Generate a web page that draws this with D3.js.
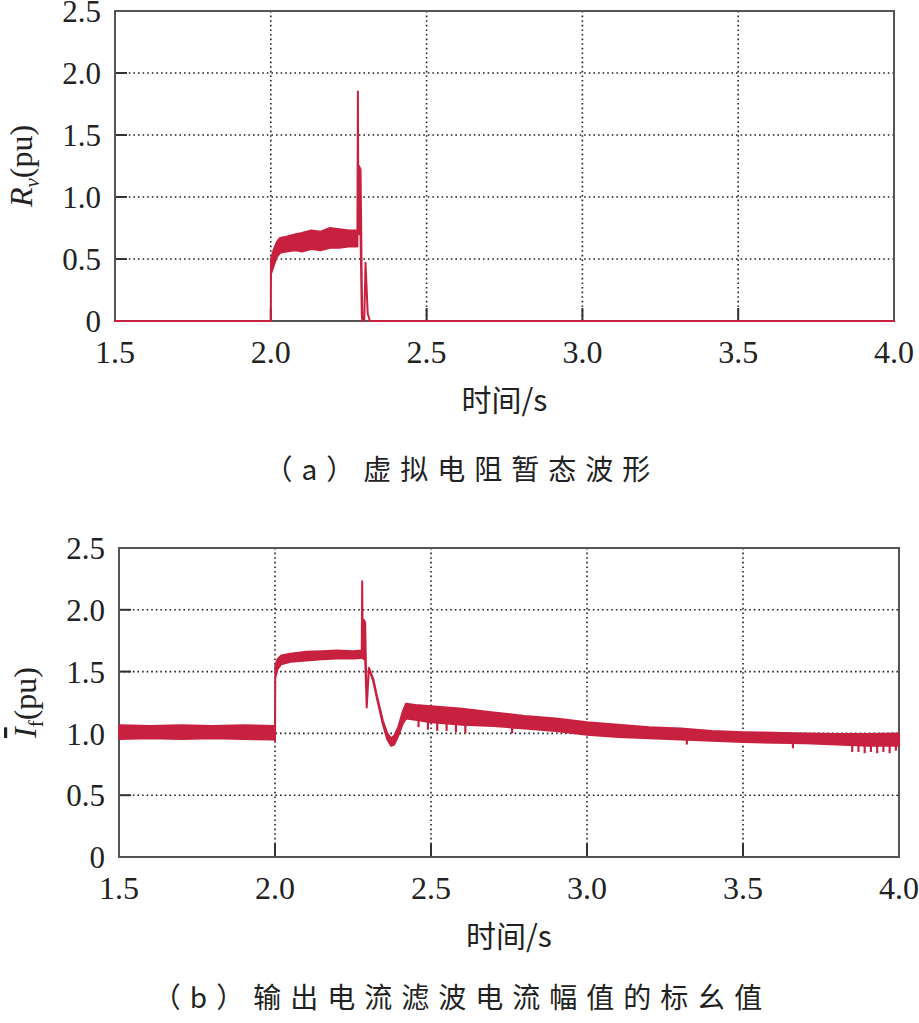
<!DOCTYPE html>
<html><head><meta charset="utf-8">
<script src="https://cdn.jsdelivr.net/npm/d3@7/dist/d3.min.js"></script>
<style>
html,body{margin:0;padding:0;background:#fff;}
svg{display:block;}
</style></head>
<body>
<script>
// ---- data ----
const xTicks = [1.5, 2.0, 2.5, 3.0, 3.5, 4.0];
const yTicks = [0, 0.5, 1.0, 1.5, 2.0, 2.5];
const xTickLabels = ["1.5", "2.0", "2.5", "3.0", "3.5", "4.0"];
const yTickLabels = ["0", "0.5", "1.0", "1.5", "2.0", "2.5"];
const xTitle = "时间/s";
const captionA = "（a）虚拟电阻暂态波形";
const captionB = "（b）输出电流滤波电流幅值的标幺值";

// virtual resistance Rv: [time, lower envelope, upper envelope]
const rvEnvelope = [
  [1.500, 0, 0], [2.000, 0, 0], [2.0005, 0.38, 0.50], [2.010, 0.45, 0.58],
  [2.020, 0.52, 0.64], [2.030, 0.55, 0.67], [2.050, 0.56, 0.68], [2.080, 0.57, 0.70],
  [2.100, 0.56, 0.71], [2.130, 0.58, 0.73], [2.160, 0.57, 0.72], [2.190, 0.59, 0.75],
  [2.220, 0.59, 0.74], [2.250, 0.60, 0.73], [2.278, 0.60, 0.73], [2.2795, 1.85, 1.85],
  [2.281, 0.70, 0.80], [2.283, 0.70, 1.25], [2.288, 0.70, 1.22], [2.292, 0.05, 0.30],
  [2.294, 0, 0], [2.300, 0, 0], [2.304, 0.47, 0.47], [2.311, 0.06, 0.06],
  [2.318, 0, 0], [4.000, 0, 0]
];

// filtered output current amplitude If: [time, lower envelope, upper envelope]
const ifEnvelope = [
  [1.500, 0.955, 1.065], [1.600, 0.960, 1.060], [1.700, 0.955, 1.065], [1.800, 0.960, 1.060],
  [1.900, 0.955, 1.065], [1.998, 0.950, 1.060], [2.000, 0.940, 1.050], [2.001, 1.45, 1.55],
  [2.008, 1.52, 1.60], [2.020, 1.56, 1.63], [2.050, 1.58, 1.645], [2.100, 1.59, 1.66],
  [2.150, 1.60, 1.665], [2.200, 1.605, 1.67], [2.250, 1.605, 1.665], [2.278, 1.61, 1.67],
  [2.2795, 2.23, 2.23], [2.281, 1.62, 1.70], [2.284, 1.60, 1.92], [2.289, 1.60, 1.90],
  [2.294, 1.21, 1.21], [2.301, 1.53, 1.53], [2.315, 1.42, 1.44], [2.327, 1.28, 1.30],
  [2.346, 1.07, 1.10], [2.360, 0.95, 1.00], [2.372, 0.90, 0.96], [2.382, 0.91, 0.98],
  [2.395, 0.98, 1.05], [2.410, 1.08, 1.18], [2.420, 1.12, 1.24], [2.450, 1.11, 1.23],
  [2.500, 1.09, 1.22], [2.550, 1.08, 1.21], [2.600, 1.07, 1.20], [2.700, 1.06, 1.17],
  [2.800, 1.04, 1.14], [2.900, 1.02, 1.12], [3.000, 0.99, 1.09], [3.100, 0.97, 1.07],
  [3.200, 0.96, 1.05], [3.300, 0.95, 1.04], [3.400, 0.94, 1.02], [3.500, 0.93, 1.01],
  [3.600, 0.925, 1.005], [3.700, 0.92, 1.00], [3.800, 0.91, 0.995], [3.900, 0.90, 0.995],
  [4.000, 0.90, 1.00]
];
// downward noise teeth on If: [time, from, to]
const ifDips = [
  [2.46, 1.12, 1.05], [2.49, 1.10, 1.03], [2.52, 1.09, 1.02], [2.55, 1.08, 1.02],
  [2.58, 1.08, 1.01], [2.61, 1.07, 1.00], [2.76, 1.05, 1.00], [3.32, 0.95, 0.91],
  [3.66, 0.925, 0.88], [3.85, 0.91, 0.85], [3.87, 0.91, 0.85], [3.89, 0.90, 0.84],
  [3.91, 0.90, 0.85], [3.93, 0.90, 0.84], [3.95, 0.90, 0.85], [3.97, 0.90, 0.84],
  [3.99, 0.90, 0.86]
];

// ---- layout ----
const W = 919, H = 1023;
const RED = "#c8213f";
const svg = d3.select("body").append("svg").attr("width", W).attr("height", H)
  .style("font-family", "'Liberation Serif','Times New Roman',serif");

function panel(box, envelope, dips, titleFn) {
  const x = d3.scaleLinear().domain([1.5, 4.0]).range([box.x0, box.x1]);
  const y = d3.scaleLinear().domain([0, 2.5]).range([box.y1, box.y0]);
  const g = svg.append("g");

  // dotted grid
  g.selectAll(".gx").data(xTicks.slice(1, -1)).enter().append("line")
    .attr("x1", d => x(d)).attr("x2", d => x(d)).attr("y1", box.y0).attr("y2", box.y1)
    .attr("stroke", "#222").attr("stroke-width", 1.6).attr("stroke-dasharray", "1.6,3");
  g.selectAll(".gy").data(yTicks.slice(1, -1)).enter().append("line")
    .attr("y1", d => y(d)).attr("y2", d => y(d)).attr("x1", box.x0).attr("x2", box.x1)
    .attr("stroke", "#222").attr("stroke-width", 1.6).attr("stroke-dasharray", "1.6,3");

  // inward ticks
  g.selectAll(".ty").data(yTicks.slice(1, -1)).enter().append("line")
    .attr("y1", d => y(d)).attr("y2", d => y(d)).attr("x1", box.x0).attr("x2", box.x0 + 12)
    .attr("stroke", "#333").attr("stroke-width", 2);
  g.selectAll(".tx").data(xTicks.slice(1, -1)).enter().append("line")
    .attr("x1", d => x(d)).attr("x2", d => x(d)).attr("y1", box.y1).attr("y2", box.y1 - 13)
    .attr("stroke", "#333").attr("stroke-width", 2);

  // frame
  g.append("rect").attr("x", box.x0).attr("y", box.y0)
    .attr("width", box.x1 - box.x0).attr("height", box.y1 - box.y0)
    .attr("fill", "none").attr("stroke", "#555").attr("stroke-width", 2);

  // data band
  const area = d3.area().x(d => x(d[0])).y0(d => y(d[1])).y1(d => y(d[2]));
  g.append("path").datum(envelope).attr("d", area)
    .attr("fill", RED).attr("stroke", RED).attr("stroke-width", 2).attr("stroke-linejoin", "round");
  g.selectAll(".dip").data(dips).enter().append("line")
    .attr("x1", d => x(d[0])).attr("x2", d => x(d[0]))
    .attr("y1", d => y(d[1])).attr("y2", d => y(d[2]))
    .attr("stroke", RED).attr("stroke-width", 2.2);

  // tick labels
  g.selectAll(".ly").data(yTicks).enter().append("text")
    .attr("x", box.x0 - 14).attr("y", d => y(d)).attr("dy", "0.36em")
    .attr("text-anchor", "end").attr("font-size", 31).attr("fill", "#222")
    .text((d, i) => yTickLabels[i]);
  g.selectAll(".lx").data(xTicks).enter().append("text")
    .attr("x", d => x(d)).attr("y", box.y1 + 42)
    .attr("text-anchor", "middle").attr("font-size", 32).attr("fill", "#222")
    .text((d, i) => xTickLabels[i]);

  // x title
  g.append("text").attr("x", (box.x0 + box.x1) / 2).attr("y", box.y1 + 90)
    .attr("text-anchor", "middle").attr("font-size", 30).attr("fill", "#222")
    .style("font-family", "'Noto Sans CJK SC',sans-serif")
    .text(xTitle);

  // y title
  const t = g.append("text")
    .attr("transform", `translate(${box.x0 - 83},${(box.y0 + box.y1) / 2}) rotate(-90)`)
    .attr("text-anchor", "middle").attr("font-size", 32).attr("fill", "#222");
  titleFn(t);
}

panel({x0: 115, x1: 894, y0: 11, y1: 321}, rvEnvelope, [], t => {
  t.append("tspan").attr("font-style", "italic").text("R");
  t.append("tspan").attr("font-style", "italic").attr("font-size", 21).attr("dy", 7).text("v");
  t.append("tspan").attr("dy", -7).text("(pu)");
});

panel({x0: 119, x1: 899, y0: 548, y1: 857}, ifEnvelope, ifDips, t => {
  t.append("tspan").attr("font-style", "italic").style("text-decoration", "overline").text("I");
  t.append("tspan").attr("font-size", 21).attr("dy", 7).text("f");
  t.append("tspan").attr("dy", -7).text("(pu)");
});

// captions
svg.append("text").attr("x", 462).attr("y", 480).attr("text-anchor", "middle")
  .attr("font-size", 28).attr("letter-spacing", 9).attr("fill", "#222")
  .style("font-family", "'Noto Sans CJK SC',sans-serif").style("font-weight", 400)
  .text(captionA);
svg.append("text").attr("x", 462).attr("y", 1008).attr("text-anchor", "middle")
  .attr("font-size", 28).attr("letter-spacing", 9).attr("fill", "#222")
  .style("font-family", "'Noto Sans CJK SC',sans-serif").style("font-weight", 400)
  .text(captionB);
</script>
</body></html>
